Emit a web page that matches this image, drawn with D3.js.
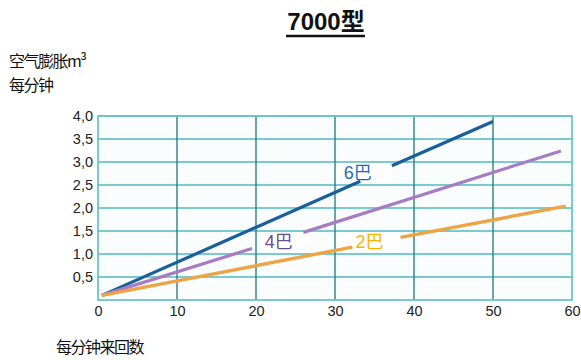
<!DOCTYPE html>
<html><head><meta charset="utf-8">
<script src="https://cdn.jsdelivr.net/npm/d3@7"></script>
<style>body{margin:0;background:#fff;}svg{display:block;}</style>
</head><body>
<script>
const title = "7000型";
const yTitle = ["空气膨胀m³", "每分钟"];
const xTitle = "每分钟来回数";
const xTicks = [0, 10, 20, 30, 40, 50, 60];
const yTicks = [0.5, 1.0, 1.5, 2.0, 2.5, 3.0, 3.5, 4.0];
const seriesNames = ["6巴", "4巴", "2巴"];
// each series drawn as two segments (a gap where its label sits)
const bar6 = [[[0.5, 0.1], [33.2, 2.58]], [[37.2, 2.92], [50, 3.88]]];
const bar4 = [[[0.5, 0.1], [19.5, 1.12]], [[26, 1.47], [58.6, 3.24]]];
const bar2 = [[[0.5, 0.1], [32.2, 1.15]], [[38.3, 1.36], [59.2, 2.04]]];
const labelPos = [[31.1, 2.63], [21.1, 1.14], [32.6, 1.14]];

const W = 581, H = 360;
const svg = d3.select("body").append("svg").attr("width", W).attr("height", H);
const m = {l: 98, r: 9, t: 116, b: 60};
const x = d3.scaleLinear().domain([0, 60]).range([m.l, W - m.r]);
const y = d3.scaleLinear().domain([0, 4]).range([H - m.b, m.t]);

// plot background
svg.append("rect").attr("x", x(0)).attr("y", y(4)).attr("width", x(60) - x(0)).attr("height", y(0) - y(4))
  .attr("fill", "#f9fdfd");

// label boxes (under grid)
const boxes = [[337, 164, 55, 20], [258, 233, 48, 18], [337, 233, 63, 18]];
svg.append("g").selectAll("rect").data(boxes).join("rect")
  .attr("x", d => d[0]).attr("y", d => d[1]).attr("width", d => d[2]).attr("height", d => d[3]).attr("fill", "#fff");

// horizontal grid
svg.append("g").selectAll("line").data(yTicks).join("line")
  .attr("x1", x(0)).attr("x2", x(60)).attr("y1", d => y(d)).attr("y2", d => y(d))
  .attr("stroke", "#4fb9c0").attr("stroke-width", 1.6);
// vertical grid
svg.append("g").selectAll("line").data(xTicks.slice(1, -1)).join("line")
  .attr("x1", d => x(d)).attr("x2", d => x(d)).attr("y1", y(0)).attr("y2", y(4))
  .attr("stroke", "#2f7d86").attr("stroke-width", 1.4);
// border
svg.append("rect").attr("x", x(0)).attr("y", y(4)).attr("width", x(60) - x(0)).attr("height", y(0) - y(4))
  .attr("fill", "none").attr("stroke", "#6cc6cc").attr("stroke-width", 1.8);

// axes labels
const xAxis = d3.axisBottom(x).tickValues(xTicks).tickSize(0).tickPadding(6).tickFormat(d3.format("d"));
const gx = svg.append("g").attr("transform", `translate(0,${y(0)})`).call(xAxis);
gx.select(".domain").remove();
gx.selectAll("text").attr("font-family", "Liberation Sans, Arial, sans-serif").attr("font-size", 14.5).attr("fill", "#222");

const yAxis = d3.axisLeft(y).tickValues(yTicks).tickSize(0).tickPadding(5).tickFormat(d => d3.format(".1f")(d).replace(".", ","));
const gy = svg.append("g").attr("transform", `translate(${x(0)},0)`).call(yAxis);
gy.select(".domain").remove();
gy.selectAll("text").attr("font-family", "Liberation Sans, Arial, sans-serif").attr("font-size", 14.5).attr("fill", "#222");

// lines
const line = d3.line().x(d => x(d[0])).y(d => y(d[1]));
const series = [
  {segs: bar6, color: "#1a5f9c", w: 3.2},
  {segs: bar4, color: "#a77cc2", w: 3.2},
  {segs: bar2, color: "#eea445", w: 3.4}
];
series.forEach(s => {
  svg.append("g").selectAll("path").data(s.segs).join("path")
    .attr("d", line).attr("fill", "none").attr("stroke", s.color)
    .attr("stroke-width", s.w);
});

const labelColors = ["#1f6db3", "#6a4e8e", "#f7b500"];
svg.append("g").selectAll("text").data(seriesNames).join("text")
  .attr("x", (d, i) => x(labelPos[i][0]))
  .attr("y", (d, i) => y(labelPos[i][1]))
  .attr("fill", (d, i) => labelColors[i])
  .attr("font-family", "Liberation Sans, Noto Sans CJK SC, sans-serif").attr("font-size", 18)
  .text(d => d);

// title
svg.append("text").attr("x", 326).attr("y", 30).attr("text-anchor", "middle")
  .attr("font-family", "Liberation Sans, Noto Sans CJK SC, sans-serif").attr("font-weight", "bold")
  .attr("font-size", 24).attr("fill", "#111").text(title);
svg.append("line").attr("x1", 286).attr("x2", 365).attr("y1", 36).attr("y2", 36)
  .attr("stroke", "#111").attr("stroke-width", 2.5);

// axis titles
svg.append("g").selectAll("text").data(yTitle).join("text")
  .attr("x", 9).attr("y", (d, i) => 67 + i * 24)
  .attr("font-family", "Noto Sans CJK SC, sans-serif").attr("font-size", 16).attr("fill", "#111")
  .attr("letter-spacing", -1.5)
  .text(d => d);
svg.append("text").attr("x", 56).attr("y", 353)
  .attr("font-family", "Noto Sans CJK SC, sans-serif").attr("font-size", 16).attr("fill", "#111")
  .attr("letter-spacing", -1.5)
  .text(xTitle);
</script>
</body></html>
